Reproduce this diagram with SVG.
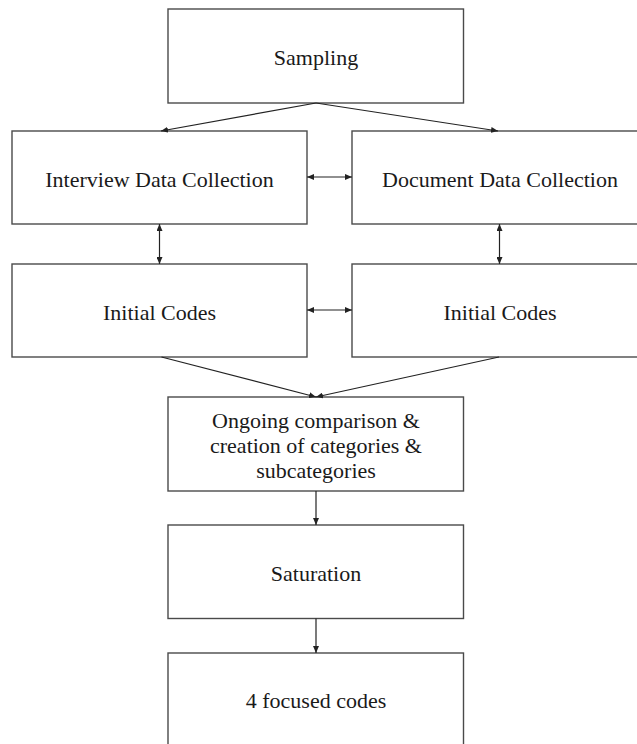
<svg xmlns="http://www.w3.org/2000/svg" width="637" height="744" viewBox="0 0 637 744">
  <style>
    .box { fill: #ffffff; stroke: #4a4a4a; stroke-width: 1.4; }
    .label { font-family: "Liberation Serif", "Times New Roman", serif; font-size: 22px; fill: #1a1a1a; text-anchor: middle; }
    .edge { fill: none; stroke: #222222; stroke-width: 1.2; }
  </style>
  <defs>
    <marker id="head" markerUnits="userSpaceOnUse" markerWidth="7" markerHeight="6" refX="7" refY="3" orient="auto-start-reverse">
      <path d="M0,0 L7,3 L0,6 z" fill="#222222"/>
    </marker>
  </defs>
  <rect width="637" height="744" fill="#ffffff"/>

  <g id="sampling">
    <rect class="box" x="168" y="9" width="295.5" height="94"/>
    <text class="label" x="316" y="65">Sampling</text>
  </g>
  <g id="interview-data">
    <rect class="box" x="12" y="131" width="295" height="93"/>
    <text class="label" x="159.5" y="187">Interview Data Collection</text>
  </g>
  <g id="document-data">
    <rect class="box" x="352" y="131" width="295" height="93"/>
    <text class="label" x="500" y="187">Document Data Collection</text>
  </g>
  <g id="initial-codes-interview">
    <rect class="box" x="12" y="264" width="295" height="93"/>
    <text class="label" x="159.5" y="320">Initial Codes</text>
  </g>
  <g id="initial-codes-document">
    <rect class="box" x="352" y="264" width="295" height="93"/>
    <text class="label" x="500" y="320">Initial Codes</text>
  </g>
  <g id="comparison">
    <rect class="box" x="168" y="397" width="295.5" height="94"/>
    <text class="label" x="316" y="428">Ongoing comparison &amp;</text>
    <text class="label" x="316" y="453">creation of categories &amp;</text>
    <text class="label" x="316" y="477.5">subcategories</text>
  </g>
  <g id="saturation">
    <rect class="box" x="168" y="525" width="295.5" height="93.5"/>
    <text class="label" x="316" y="581">Saturation</text>
  </g>
  <g id="focused-codes">
    <rect class="box" x="168" y="653" width="295.5" height="94"/>
    <text class="label" x="316" y="708">4 focused codes</text>
  </g>

  <g id="connectors">
    <line class="edge" x1="316" y1="103" x2="161" y2="131" marker-end="url(#head)"/>
    <line class="edge" x1="316" y1="103" x2="498" y2="131" marker-end="url(#head)"/>
    <line class="edge" x1="307" y1="177" x2="352" y2="177" marker-start="url(#head)" marker-end="url(#head)"/>
    <line class="edge" x1="159.5" y1="224" x2="159.5" y2="264" marker-start="url(#head)" marker-end="url(#head)"/>
    <line class="edge" x1="499.5" y1="224" x2="499.5" y2="264" marker-start="url(#head)" marker-end="url(#head)"/>
    <line class="edge" x1="307" y1="310" x2="352" y2="310" marker-start="url(#head)" marker-end="url(#head)"/>
    <line class="edge" x1="161.5" y1="357" x2="316" y2="397" marker-end="url(#head)"/>
    <line class="edge" x1="499" y1="357" x2="316" y2="397" marker-end="url(#head)"/>
    <line class="edge" x1="316" y1="491" x2="316" y2="525" marker-end="url(#head)"/>
    <line class="edge" x1="316" y1="618.5" x2="316" y2="653" marker-end="url(#head)"/>
  </g>
</svg>
